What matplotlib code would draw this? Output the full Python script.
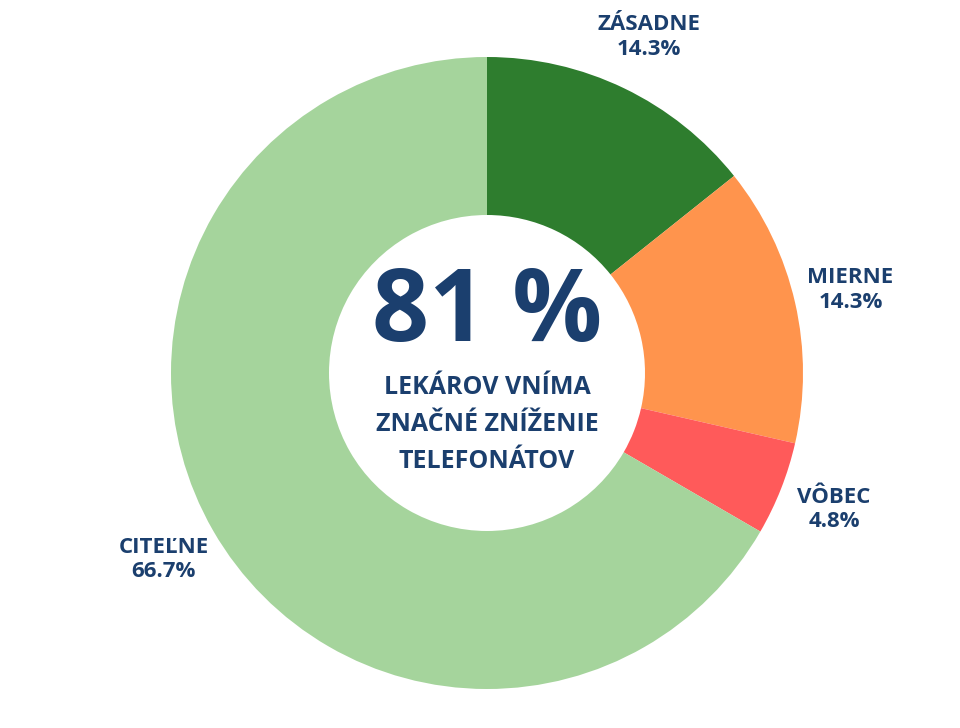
import matplotlib
matplotlib.use("Agg")
import matplotlib.pyplot as plt
import numpy as np

labels = ["ZÁSADNE", "MIERNE", "VÔBEC", "CITEĽNE"]
values = [14.3, 14.3, 4.8, 66.7]
colors = ["#2e7d2e", "#ff944d", "#ff5a5a", "#a5d49c"]
center_big = "81 %"
center_lines = ["LEKÁROV VNÍMA", "ZNAČNÉ ZNÍŽENIE", "TELEFONÁTOV"]
tc = "#1b3f6e"
plt.rcParams['font.family'] = ['Open Sans', 'DejaVu Sans']

fig = plt.figure(figsize=(9.6, 7.28), dpi=100)
R = 316
cx, cy = 487, 728 - 373
ax = fig.add_axes([(cx - 480) / 960, (cy - 364) / 728, 960 / 960, 728 / 728])

wedges, _ = ax.pie(values, colors=colors, startangle=90, counterclock=False,
                   radius=1, wedgeprops=dict(width=0.5, linewidth=0))
ax.set_xlim(-480 / R, 480 / R)
ax.set_ylim(-364 / R, 364 / R)
ax.set_aspect('equal')
ax.axis('off')
for w, lab, v in zip(wedges, labels, values):
    ang = np.deg2rad((w.theta1 + w.theta2) / 2)
    r = 1.18
    ax.text(r * np.cos(ang), r * np.sin(ang), f"{lab}\n{v}%", ha='center', va='center',
            color=tc, fontsize=16, fontweight='bold', linespacing=1.2)

ax.text(0, (373 - 315) / R, center_big, ha='center', va='center', color=tc,
        fontsize=72, fontweight='bold')
for i, t in enumerate(center_lines):
    y = (373 - (388 + 37 * i)) / R
    ax.text(0, y, t, ha='center', va='center', color=tc, fontsize=18, fontweight='bold')

fig.savefig("out.png", dpi=100)
